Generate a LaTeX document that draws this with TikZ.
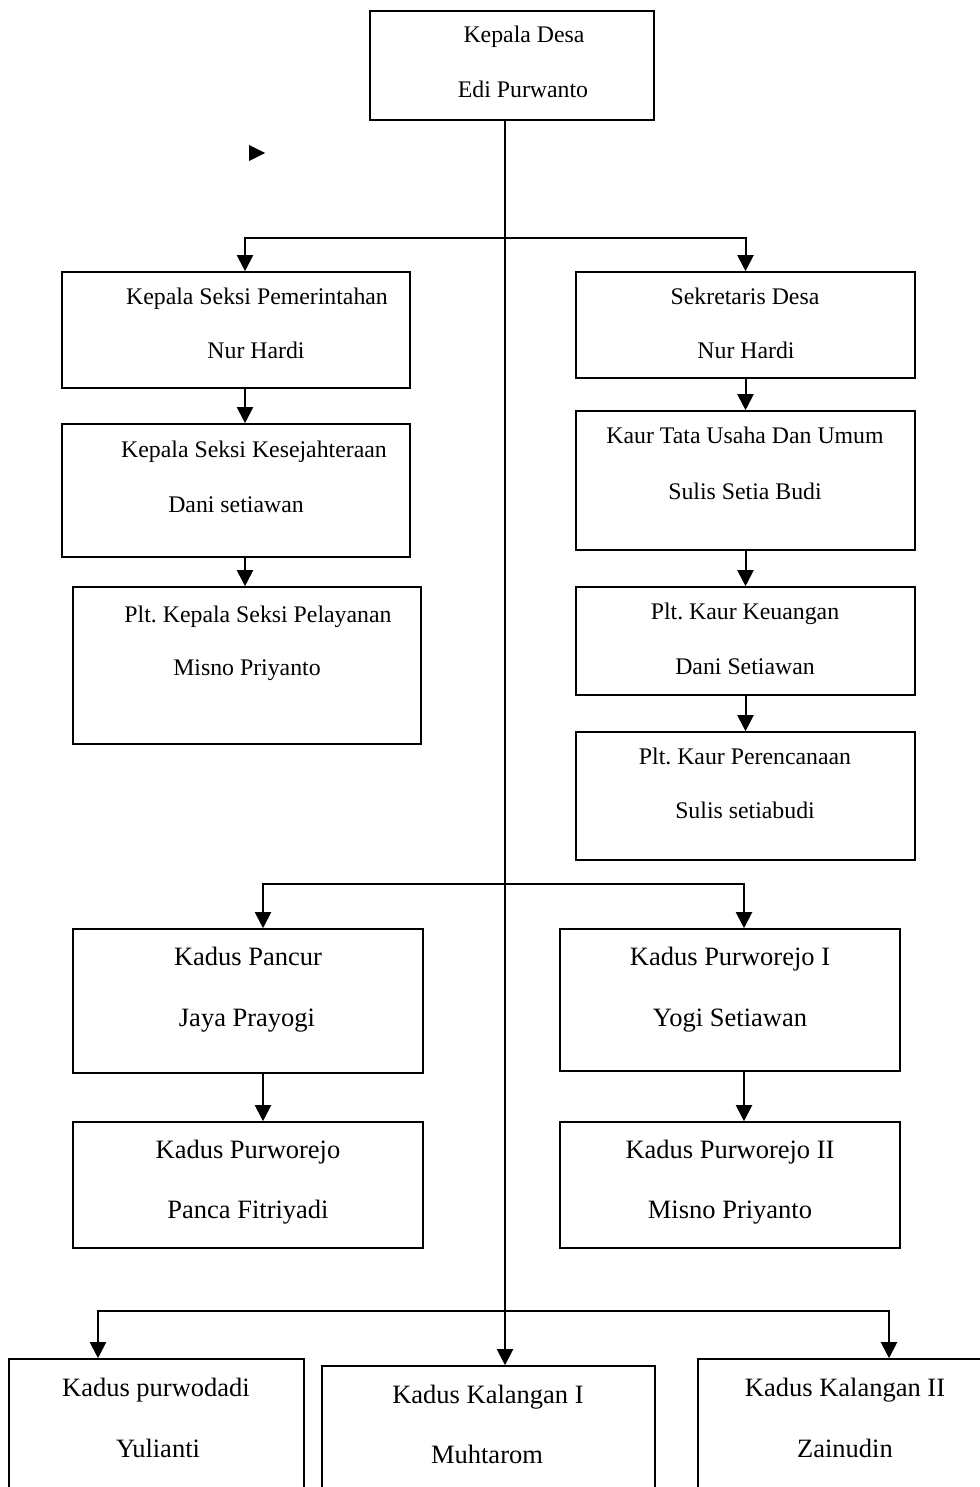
\documentclass[tikz,border=0pt]{standalone}
\usepackage{fontspec}
\setmainfont{Liberation Serif}
\usetikzlibrary{arrows.meta,fit}
\frenchspacing

\begin{document}
\begin{tikzpicture}[x=0.5pt, y=-0.5pt,
    box/.style={draw=black, line width=0.8pt, inner sep=0pt},
    txt/.style={anchor=base, inner sep=0pt, font=\fontsize{11.9}{14}\selectfont},
    big/.style={anchor=base, inner sep=0pt, font=\fontsize{13.25}{16}\selectfont},
    arr/.style={line width=1pt, -{Triangle[length=8pt, width=8pt]}}]
    \useasboundingbox (0,0) rectangle (979,1487);

    \node[box, fit={(370,11) (654,120)}] (kades) {};
    \node[txt] (kades-a) at (524,43) {Kepala Desa};
    \node[txt] (kades-b) at (523,98) {Edi Purwanto};

    \node[box, fit={(62,272) (410,388)}] (pem) {};
    \node[txt] (pem-a) at (257,304) {Kepala Seksi Pemerintahan};
    \node[txt] (pem-b) at (256,358) {Nur Hardi};
    \node[box, fit={(62,424) (410,557)}] (kesra) {};
    \node[txt] (kesra-a) at (254,457) {Kepala Seksi Kesejahteraan};
    \node[txt] (kesra-b) at (236,512) {Dani setiawan};
    \node[box, fit={(73,587) (421,744)}] (pel) {};
    \node[txt] (pel-a) at (258,622) {Plt. Kepala Seksi Pelayanan};
    \node[txt] (pel-b) at (247,675) {Misno Priyanto};

    \node[box, fit={(576,272) (915,378)}] (sekdes) {};
    \node[txt] (sekdes-a) at (745,304) {Sekretaris Desa};
    \node[txt] (sekdes-b) at (746,358) {Nur Hardi};
    \node[box, fit={(576,411) (915,550)}] (tu) {};
    \node[txt] (tu-a) at (745,443) {Kaur Tata Usaha Dan Umum};
    \node[txt] (tu-b) at (745,499) {Sulis Setia Budi};
    \node[box, fit={(576,587) (915,695)}] (keu) {};
    \node[txt] (keu-a) at (745,619) {Plt. Kaur Keuangan};
    \node[txt] (keu-b) at (745,674) {Dani Setiawan};
    \node[box, fit={(576,732) (915,860)}] (ren) {};
    \node[txt] (ren-a) at (745,764) {Plt. Kaur Perencanaan};
    \node[txt] (ren-b) at (745,818) {Sulis setiabudi};

    \node[box, fit={(73,929) (423,1073)}] (pancur) {};
    \node[big] (pancur-a) at (248,965) {Kadus Pancur};
    \node[big] (pancur-b) at (247,1026) {Jaya Prayogi};
    \node[box, fit={(73,1122) (423,1248)}] (pwr) {};
    \node[big] (pwr-a) at (248,1158) {Kadus Purworejo};
    \node[big] (pwr-b) at (248,1218) {Panca Fitriyadi};
    \node[box, fit={(560,929) (900,1071)}] (pwr1) {};
    \node[big] (pwr1-a) at (730,965) {Kadus Purworejo I};
    \node[big] (pwr1-b) at (730,1026) {Yogi Setiawan};
    \node[box, fit={(560,1122) (900,1248)}] (pwr2) {};
    \node[big] (pwr2-a) at (730,1158) {Kadus Purworejo II};
    \node[big] (pwr2-b) at (730,1218) {Misno Priyanto};

    \node[box, fit={(9,1359) (304,1500)}] (pwd) {};
    \node[big] (pwd-a) at (156,1396) {Kadus purwodadi};
    \node[big] (pwd-b) at (158,1457) {Yulianti};
    \node[box, fit={(322,1366) (655,1500)}] (kal1) {};
    \node[big] (kal1-a) at (488,1403) {Kadus Kalangan I};
    \node[big] (kal1-b) at (487,1463) {Muhtarom};
    \node[box, fit={(698,1359) (990,1500)}] (kal2) {};
    \node[big] (kal2-a) at (845,1396) {Kadus Kalangan II};
    \node[big] (kal2-b) at (845,1457) {Zainudin};

    \coordinate (trunk) at (505,0);
    \coordinate (j1) at (505,238);
    \coordinate (j2) at (505,884);
    \coordinate (j3) at (505,1311);

    \draw[arr] (kades.south -| trunk) -- (kal1.north -| trunk);
    \fill (249,145) -- (265,153) -- (249,161) -- cycle;

    \draw[arr] (j1) -| ([xshift=4.5pt]pem.north);
    \draw[arr] (j1) -| (sekdes.north);
    \draw[arr] ([xshift=4.5pt]pem.south) -- ([xshift=4.5pt]kesra.north);
    \draw[arr] ([xshift=4.5pt]kesra.south) -- ([xshift=4.5pt]kesra.south |- pel.north);
    \draw[arr] (sekdes.south) -- (tu.north);
    \draw[arr] (tu.south) -- (keu.north);
    \draw[arr] (keu.south) -- (ren.north);

    \draw[arr] (j2) -| ([xshift=7.5pt]pancur.north);
    \draw[arr] (j2) -| ([xshift=7pt]pwr1.north);
    \draw[arr] ([xshift=7.5pt]pancur.south) -- ([xshift=7.5pt]pwr.north);
    \draw[arr] ([xshift=7pt]pwr1.south) -- ([xshift=7pt]pwr2.north);

    \draw[arr] (j3) -| ([xshift=-29.25pt]pwd.north);
    \draw[arr] (j3) -| ([xshift=22.5pt]kal2.north);
\end{tikzpicture}
\end{document}
